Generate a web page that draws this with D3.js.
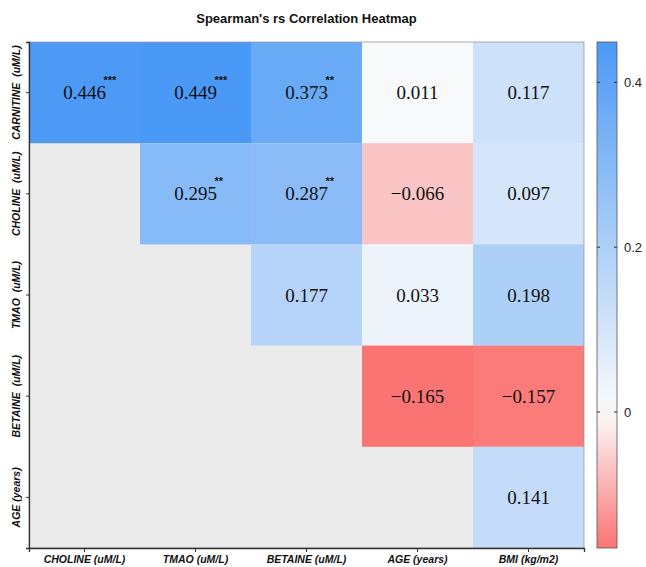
<!DOCTYPE html>
<html>
<head>
<meta charset="utf-8">
<script src="https://cdn.jsdelivr.net/npm/d3@7"></script>
<style>
  html, body { margin: 0; padding: 0; background: #fff; }
  svg { display: block; }
</style>
</head>
<body>
<svg id="chart" width="646" height="567"></svg>
<script>
// Row variables (top to bottom) and column variables (left to right)
const rowVars = ["CARNITINE  (uM/L)", "CHOLINE  (uM/L)", "TMAO  (uM/L)", "BETAINE  (uM/L)", "AGE (years)"];
const colVars = ["CHOLINE (uM/L)", "TMAO (uM/L)", "BETAINE (uM/L)", "AGE (years)", "BMI (kg/m2)"];

// Spearman rs per row; null = lower triangle (not shown)
const carnitineRs = [0.446, 0.449, 0.373, 0.011, 0.117];
const cholineRs   = [null, 0.295, 0.287, -0.066, 0.097];
const tmaoRs      = [null, null, 0.177, 0.033, 0.198];
const betaineRs   = [null, null, null, -0.165, -0.157];
const ageRs       = [null, null, null, null, 0.141];

// Significance marks per row
const carnitineSig = ["***", "***", "**", "", ""];
const cholineSig   = ["", "**", "**", "", ""];
const tmaoSig      = ["", "", "", "", ""];
const betaineSig   = ["", "", "", "", ""];
const ageSig       = ["", "", "", "", ""];

const colorbarTicks = [0, 0.2, 0.4];
const rsMin = -0.165, rsMax = 0.449;

const rsRows = [carnitineRs, cholineRs, tmaoRs, betaineRs, ageRs];
const sigRows = [carnitineSig, cholineSig, tmaoSig, betaineSig, ageSig];

const cells = [];
rsRows.forEach((row, i) => row.forEach((v, j) => {
  cells.push({ row: rowVars[i], col: colVars[j], value: v, sig: sigRows[i][j] });
}));

const svg = d3.select("#chart");
const m = { left: 29, top: 42, right: 584, bottom: 548 };

const x = d3.scaleBand().domain(colVars).range([m.left, m.right]).padding(0);
const y = d3.scaleBand().domain(rowVars).range([m.top, m.bottom]).padding(0);

const color = d3.scaleLinear()
  .domain([rsMin, 0, rsMax])
  .range(["#fb7474", "#fbfbfb", "#4b99f6"])
  .interpolate(d3.interpolateRgb)
  .clamp(true);

// Panel background
svg.append("rect")
  .attr("x", m.left).attr("y", m.top)
  .attr("width", m.right - m.left).attr("height", m.bottom - m.top)
  .attr("fill", "#ebebeb");

// Tiles
svg.append("g").selectAll("rect")
  .data(cells.filter(d => d.value !== null))
  .join("rect")
  .attr("x", d => x(d.col))
  .attr("y", d => y(d.row))
  .attr("width", x.bandwidth())
  .attr("height", y.bandwidth())
  .attr("fill", d => color(d.value));

// Panel frame
svg.append("rect")
  .attr("x", m.left).attr("y", m.top)
  .attr("width", m.right - m.left).attr("height", m.bottom - m.top)
  .attr("fill", "none").attr("stroke", "#9a9aa0").attr("stroke-width", 0.8);

// Values
const fmt = v => d3.format(".3f")(v).replace("-", "\u2212");
const labels = svg.append("g").selectAll("g")
  .data(cells.filter(d => d.value !== null))
  .join("g")
  .attr("transform", d => `translate(${x(d.col) + x.bandwidth() / 2},${y(d.row) + y.bandwidth() / 2})`);

labels.append("text")
  .attr("text-anchor", "middle")
  .attr("dy", "0.35em")
  .attr("font-family", "'Liberation Serif', 'Times New Roman', serif")
  .attr("font-size", 19)
  .attr("fill", "#111")
  .text(d => fmt(d.value));

labels.filter(d => d.sig).append("text")
  .attr("x", 19)
  .attr("y", -9)
  .attr("font-family", "'Liberation Sans', Arial, sans-serif")
  .attr("font-weight", "bold")
  .attr("font-size", 11)
  .attr("fill", "#111")
  .text(d => d.sig);

// Axes
const axisFont = "'Liberation Sans Narrow', 'Liberation Sans', Arial, sans-serif";

const xAxis = svg.append("g")
  .attr("transform", `translate(0,${m.bottom})`)
  .call(d3.axisBottom(x).tickSize(4).tickPadding(4));
xAxis.select(".domain").attr("stroke", "#333").attr("stroke-width", 1.3);
xAxis.selectAll(".tick line").attr("stroke", "#333");
xAxis.selectAll(".tick text")
  .attr("font-family", axisFont).attr("font-size", 10.5)
  .attr("font-weight", "bold").attr("font-style", "italic").attr("fill", "#111");

const yAxis = svg.append("g")
  .attr("transform", `translate(${m.left},0)`)
  .call(d3.axisLeft(y).tickSize(3).tickPadding(0));
yAxis.select(".domain").attr("stroke", "#333").attr("stroke-width", 1.3);
yAxis.selectAll(".tick line").attr("stroke", "#333");
yAxis.selectAll(".tick text")
  .attr("x", 0).attr("dy", 0)
  .attr("transform", "translate(-9,0) rotate(-90)")
  .attr("text-anchor", "middle")
  .attr("font-family", axisFont).attr("font-size", 10.5)
  .attr("font-weight", "bold").attr("font-style", "italic").attr("fill", "#111")
  .style("white-space", "pre")
  .attr("xml:space", "preserve");

// Title
svg.append("text")
  .attr("x", (m.left + m.right) / 2)
  .attr("y", 23)
  .attr("text-anchor", "middle")
  .attr("font-family", "'Liberation Sans', Arial, sans-serif")
  .attr("font-weight", "bold")
  .attr("font-size", 13)
  .attr("fill", "#111")
  .text("Spearman's rs Correlation Heatmap");

// Colour bar
const cb = { x: 597, w: 20 };
const cbScale = d3.scaleLinear().domain([rsMin, rsMax]).range([m.bottom, m.top]);

const defs = svg.append("defs");
const grad = defs.append("linearGradient")
  .attr("id", "rsGradient")
  .attr("x1", 0).attr("y1", 1).attr("x2", 0).attr("y2", 0);
d3.range(0, 1.0001, 0.05).forEach(t => {
  const v = rsMin + t * (rsMax - rsMin);
  grad.append("stop").attr("offset", t).attr("stop-color", color(v));
});

svg.append("rect")
  .attr("x", cb.x).attr("y", m.top)
  .attr("width", cb.w).attr("height", m.bottom - m.top)
  .attr("fill", "url(#rsGradient)")
  .attr("stroke", "#555").attr("stroke-width", 0.8);

const cbTicks = svg.append("g").selectAll("g")
  .data(colorbarTicks)
  .join("g")
  .attr("transform", d => `translate(0,${cbScale(d)})`);
cbTicks.append("line")
  .attr("x1", cb.x).attr("x2", cb.x + 3)
  .attr("stroke", "#333");
cbTicks.append("line")
  .attr("x1", cb.x + cb.w - 3).attr("x2", cb.x + cb.w)
  .attr("stroke", "#333");
cbTicks.append("text")
  .attr("x", cb.x + cb.w + 7)
  .attr("dy", "0.35em")
  .attr("font-family", "'Liberation Sans', Arial, sans-serif")
  .attr("font-size", 13)
  .attr("fill", "#222")
  .text(d => d3.format("")(d));
</script>
</body>
</html>
